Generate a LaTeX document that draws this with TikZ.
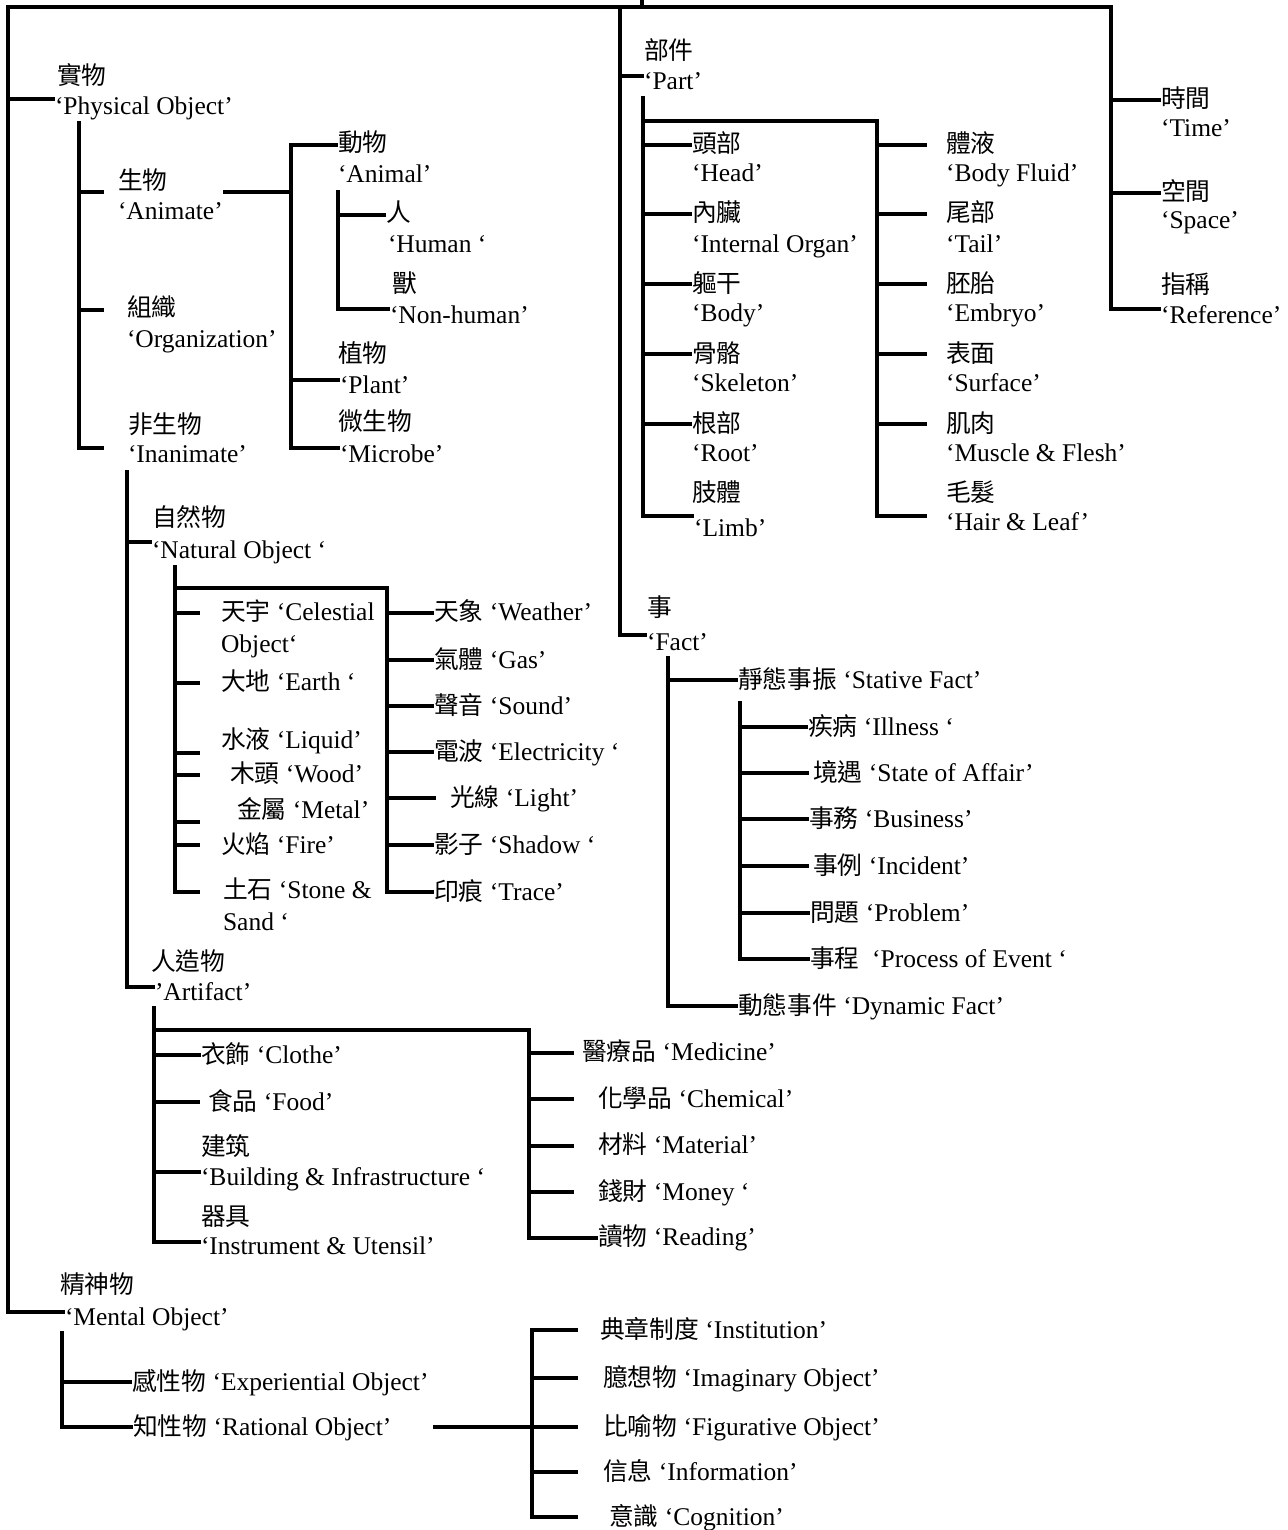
\documentclass[tikz,border=0pt]{standalone}
\usepackage{fontspec}
\setmainfont{Liberation Serif}
\newfontfamily\cjk[Scale=0.97]{Noto Sans CJK TC}
\newcommand{\hanzi}[1]{{\cjk #1}}
\newcommand{\brtick}[4]{\path ([xshift=-#3pt,yshift=#4pt]#2.base west) coordinate (#2-k);\draw[br] (#1 |- #2-k) -- (#2-k);}
\tikzset{
  lab/.style={anchor=base west,inner sep=0pt,outer sep=0pt,font=\fontsize{25.5pt}{30pt}\selectfont},
  br/.style={line width=3.3pt},
  trunk/.style={line width=3.3pt,line cap=rect}
}
\begin{document}
\begin{tikzpicture}[x=1pt,y=-1pt]
\useasboundingbox (0,0) rectangle (1287,1530);
% ---------- nodes: physical object ----------
\node[lab] (cPhy) at (57,85) {\hanzi{實物}};
\node[lab] (ePhy) at (55,115) {‘Physical Object’};
\node[lab] (cAnim) at (118,190) {\hanzi{生物}};
\node[lab] (eAnim) at (118,220) {‘Animate’};
\node[lab] (cOrg) at (127,316) {\hanzi{組織}};
\node[lab] (eOrg) at (127,347) {‘Organization’};
\node[lab] (cInan) at (128,433) {\hanzi{非生物}};
\node[lab] (eInan) at (128,462) {‘Inanimate’};
\node[lab] (cAnimal) at (338,152) {\hanzi{動物}};
\node[lab] (eAnimal) at (338,183) {‘Animal’};
\node[lab] (cHum) at (386,222) {\hanzi{人}};
\node[lab] (eHum) at (388,253) {‘Human ‘};
\node[lab] (cNon) at (392,292) {\hanzi{獸}};
\node[lab] (eNon) at (390,323) {‘Non-human’};
\node[lab] (cPlant) at (338,362) {\hanzi{植物}};
\node[lab] (ePlant) at (340,393) {‘Plant’};
\node[lab] (cMic) at (338,430) {\hanzi{微生物}};
\node[lab] (eMic) at (340,462) {‘Microbe’};
% ---------- inanimate ----------
\node[lab] (cNat) at (152,526) {\hanzi{自然物}};
\node[lab] (eNat) at (152,558) {‘Natural Object ‘};
\node[lab] (cArt) at (151,970) {\hanzi{人造物}};
\node[lab] (eArt) at (155,1000) {’Artifact’};
\node[lab] (cel1) at (221,620) {\hanzi{天宇} ‘Celestial};
\node[lab] (cel2) at (221,652) {Object‘};
\node[lab] (earth) at (221,690) {\hanzi{大地} ‘Earth ‘};
\node[lab] (liq) at (221,748) {\hanzi{水液} ‘Liquid’};
\node[lab] (wood) at (230,782) {\hanzi{木頭} ‘Wood’};
\node[lab] (metal) at (237,818) {\hanzi{金屬} ‘Metal’};
\node[lab] (fire) at (221,853) {\hanzi{火焰} ‘Fire’};
\node[lab] (st1) at (223,898) {\hanzi{土石} ‘Stone \&};
\node[lab] (st2) at (223,930) {Sand ‘};
\node[lab] (weather) at (434,620) {\hanzi{天象} ‘Weather’};
\node[lab] (gas) at (434,668) {\hanzi{氣體} ‘Gas’};
\node[lab] (sound) at (434,714) {\hanzi{聲音} ‘Sound’};
\node[lab] (elec) at (434,760) {\hanzi{電波} ‘Electricity ‘};
\node[lab] (light) at (450,806) {\hanzi{光線} ‘Light’};
\node[lab] (shadow) at (434,853) {\hanzi{影子} ‘Shadow ‘};
\node[lab] (trace) at (434,900) {\hanzi{印痕} ‘Trace’};
% ---------- artifact ----------
\node[lab] (cloth) at (201,1063) {\hanzi{衣飾} ‘Clothe’};
\node[lab] (food) at (208,1110) {\hanzi{食品} ‘Food’};
\node[lab] (cBuild) at (201,1155) {\hanzi{建筑}};
\node[lab] (eBuild) at (201,1185) {‘Building \& Infrastructure ‘};
\node[lab] (cInst) at (201,1225) {\hanzi{器具}};
\node[lab] (eInst) at (201,1254) {‘Instrument \& Utensil’};
\node[lab] (med) at (582,1060) {\hanzi{醫療品} ‘Medicine’};
\node[lab] (chem) at (598,1107) {\hanzi{化學品} ‘Chemical’};
\node[lab] (mat) at (598,1153) {\hanzi{材料} ‘Material’};
\node[lab] (money) at (598,1200) {\hanzi{錢財} ‘Money ‘};
\node[lab] (read) at (598,1245) {\hanzi{讀物} ‘Reading’};
% ---------- mental ----------
\node[lab] (cMent) at (60,1293) {\hanzi{精神物}};
\node[lab] (eMent) at (65,1325) {‘Mental Object’};
\node[lab] (exp) at (132,1390) {\hanzi{感性物} ‘Experiential Object’};
\node[lab] (rat) at (133,1435) {\hanzi{知性物} ‘Rational Object’};
\node[lab] (inst) at (600,1338) {\hanzi{典章制度} ‘Institution’};
\node[lab] (imag) at (603,1386) {\hanzi{臆想物} ‘Imaginary Object’};
\node[lab] (fig) at (603,1435) {\hanzi{比喻物} ‘Figurative Object’};
\node[lab] (info) at (603,1480) {\hanzi{信息} ‘Information’};
\node[lab] (cog) at (609,1525) {\hanzi{意識} ‘Cognition’};
% ---------- part ----------
\node[lab] (cPart) at (644,60) {\hanzi{部件}};
\node[lab] (ePart) at (644,90) {‘Part’};
\node[lab] (cHead) at (692,153) {\hanzi{頭部}};
\node[lab] (eHead) at (692,182) {‘Head’};
\node[lab] (cOrgan) at (692,222) {\hanzi{內臟}};
\node[lab] (eOrgan) at (692,252) {‘Internal Organ’};
\node[lab] (cBody) at (692,292) {\hanzi{軀干}};
\node[lab] (eBody) at (692,321) {‘Body’};
\node[lab] (cSkel) at (692,362) {\hanzi{骨骼}};
\node[lab] (eSkel) at (692,391) {‘Skeleton’};
\node[lab] (cRoot) at (692,432) {\hanzi{根部}};
\node[lab] (eRoot) at (692,461) {‘Root’};
\node[lab] (cLimb) at (692,501) {\hanzi{肢體}};
\node[lab] (eLimb) at (694,536) {‘Limb’};
\node[lab] (cFluid) at (946,153) {\hanzi{體液}};
\node[lab] (eFluid) at (946,182) {‘Body Fluid’};
\node[lab] (cTail) at (946,222) {\hanzi{尾部}};
\node[lab] (eTail) at (946,252) {‘Tail’};
\node[lab] (cEmb) at (946,292) {\hanzi{胚胎}};
\node[lab] (eEmb) at (946,321) {‘Embryo’};
\node[lab] (cSurf) at (946,362) {\hanzi{表面}};
\node[lab] (eSurf) at (946,391) {‘Surface’};
\node[lab] (cMus) at (946,432) {\hanzi{肌肉}};
\node[lab] (eMus) at (946,461) {‘Muscle \& Flesh’};
\node[lab] (cHair) at (946,501) {\hanzi{毛髮}};
\node[lab] (eHair) at (946,530) {‘Hair \& Leaf’};
% ---------- time / space / reference ----------
\node[lab] (cTime) at (1161,108) {\hanzi{時間}};
\node[lab] (eTime) at (1161,137) {‘Time’};
\node[lab] (cSpace) at (1161,201) {\hanzi{空間}};
\node[lab] (eSpace) at (1161,229) {‘Space’};
\node[lab] (cRef) at (1161,293) {\hanzi{指稱}};
\node[lab] (eRef) at (1161,323) {‘Reference’};
% ---------- fact ----------
\node[lab] (cFact) at (647,616) {\hanzi{事}};
\node[lab] (eFact) at (647,650) {‘Fact’};
\node[lab] (stat) at (738,688) {\hanzi{靜態事振} ‘Stative Fact’};
\node[lab] (dyn) at (738,1014) {\hanzi{動態事件} ‘Dynamic Fact’};
\node[lab] (ill) at (808,735) {\hanzi{疾病} ‘Illness ‘};
\node[lab] (state) at (813,781) {\hanzi{境遇} ‘State of Affair’};
\node[lab] (bus) at (809,827) {\hanzi{事務} ‘Business’};
\node[lab] (inc) at (813,874) {\hanzi{事例} ‘Incident’};
\node[lab] (prob) at (810,921) {\hanzi{問題} ‘Problem’};
\node[lab] (proc) at (810,967) {\hanzi{事程}\ \ ‘Process of Event ‘};

% ---------- trunk coordinates ----------
\coordinate (L) at (8,7);
\coordinate (RT) at (1111,7);
\coordinate (M) at (620,7);
\coordinate (stubT) at (642,0);
\coordinate (stubB) at (642,7);
\coordinate (P1) at (79,123);
\coordinate (P2) at (291,145);
\coordinate (P3) at (338,192);
\coordinate (I) at (127,472);
\coordinate (N) at (175,567);
\coordinate (NB) at (387,588);
\coordinate (A) at (154,1008);
\coordinate (AB) at (529,1030);
\coordinate (F) at (668,658);
\coordinate (S) at (740,703);
\coordinate (PT) at (643,98);
\coordinate (PB) at (877,121);
\coordinate (MT) at (62,1333);
\coordinate (RM) at (532,1330);

% ---------- top frame ----------
\brtick{L}{ePhy}{0}{16}
\brtick{L}{eMent}{0}{13}
\brtick{RT}{cTime}{0}{8}
\brtick{RT}{cSpace}{0}{8}
\brtick{RT}{eRef}{0}{14}
\brtick{M}{ePart}{0}{14}
\brtick{M}{eFact}{0}{15}
\draw[trunk] (L |- eMent-k) -- (L) -- (RT) -- (RT |- eRef-k);
\draw[trunk] (M) -- (M |- eFact-k);
\draw[br] (stubT) -- (stubB);

% ---------- physical object ----------
\brtick{P1}{cAnim}{14}{-2}
\brtick{P1}{cOrg}{23}{6}
\brtick{P1}{eInan}{24}{14}
\draw[trunk] (P1) -- (P1 |- eInan-k);
\path ([xshift=0pt,yshift=28pt]eAnim.base east) coordinate (aniL);
\draw[br] (aniL) -- (P2 |- aniL);
\brtick{P2}{cAnimal}{0}{7}
\brtick{P2}{ePlant}{0}{13}
\brtick{P2}{eMic}{0}{14}
\draw[trunk] (P2) -- (P2 |- eMic-k);
\brtick{P3}{cHum}{0}{7}
\brtick{P3}{eNon}{0}{14}
\draw[trunk] (P3) -- (P3 |- eNon-k);

% ---------- inanimate ----------
\brtick{I}{eNat}{0}{16}
\brtick{I}{eArt}{0}{13}
\draw[trunk] (I) -- (I |- eArt-k);
\brtick{N}{cel1}{21}{7}
\brtick{N}{earth}{21}{7}
\brtick{N}{liq}{21}{-5}
\brtick{N}{wood}{30}{7}
\brtick{N}{metal}{37}{-4}
\brtick{N}{fire}{21}{8}
\brtick{N}{st1}{23}{6}
\draw[trunk] (N) -- (N |- st1-k);
\brtick{NB}{weather}{0}{7}
\brtick{NB}{gas}{0}{8}
\brtick{NB}{sound}{0}{8}
\brtick{NB}{elec}{0}{8}
\brtick{NB}{light}{14}{8}
\brtick{NB}{shadow}{0}{8}
\brtick{NB}{trace}{0}{8}
\draw[trunk] (N |- NB) -- (NB) -- (NB |- trace-k);

% ---------- artifact ----------
\brtick{A}{cloth}{0}{8}
\brtick{A}{food}{8}{8}
\brtick{A}{eBuild}{0}{13}
\brtick{A}{eInst}{0}{12}
\draw[trunk] (A) -- (A |- eInst-k);
\brtick{AB}{med}{8}{7}
\brtick{AB}{chem}{24}{8}
\brtick{AB}{mat}{24}{7}
\brtick{AB}{money}{24}{8}
\brtick{AB}{read}{0}{7}
\draw[trunk] (A |- AB) -- (AB) -- (AB |- read-k);

% ---------- fact ----------
\brtick{F}{stat}{0}{8}
\brtick{F}{dyn}{0}{8}
\draw[trunk] (F) -- (F |- dyn-k);
\brtick{S}{ill}{0}{8}
\brtick{S}{state}{4}{8}
\brtick{S}{bus}{0}{8}
\brtick{S}{inc}{4}{8}
\brtick{S}{prob}{0}{8}
\brtick{S}{proc}{0}{8}
\draw[trunk] (S) -- (S |- proc-k);

% ---------- part ----------
\brtick{PT}{cHead}{0}{8}
\brtick{PT}{cOrgan}{0}{8}
\brtick{PT}{cBody}{0}{8}
\brtick{PT}{cSkel}{0}{8}
\brtick{PT}{cRoot}{0}{8}
\brtick{PT}{eLimb}{0}{20}
\draw[trunk] (PT) -- (PT |- eLimb-k);
\brtick{PB}{cFluid}{19}{8}
\brtick{PB}{cTail}{19}{8}
\brtick{PB}{cEmb}{19}{8}
\brtick{PB}{cSurf}{19}{8}
\brtick{PB}{cMus}{19}{8}
\brtick{PB}{eHair}{19}{14}
\draw[trunk] (PT |- PB) -- (PB) -- (PB |- eHair-k);

% ---------- mental ----------
\brtick{MT}{exp}{0}{8}
\brtick{MT}{rat}{0}{8}
\draw[trunk] (MT) -- (MT |- rat-k);
\brtick{RM}{inst}{22}{8}
\brtick{RM}{imag}{25}{8}
\brtick{RM}{fig}{25}{8}
\brtick{RM}{info}{25}{8}
\brtick{RM}{cog}{31}{8}
\draw[trunk] (RM) -- (RM |- cog-k);
\path ([xshift=42pt,yshift=8pt]rat.base east) coordinate (ratL);
\draw[br] (ratL) -- (RM |- ratL);
\end{tikzpicture}
\end{document}
